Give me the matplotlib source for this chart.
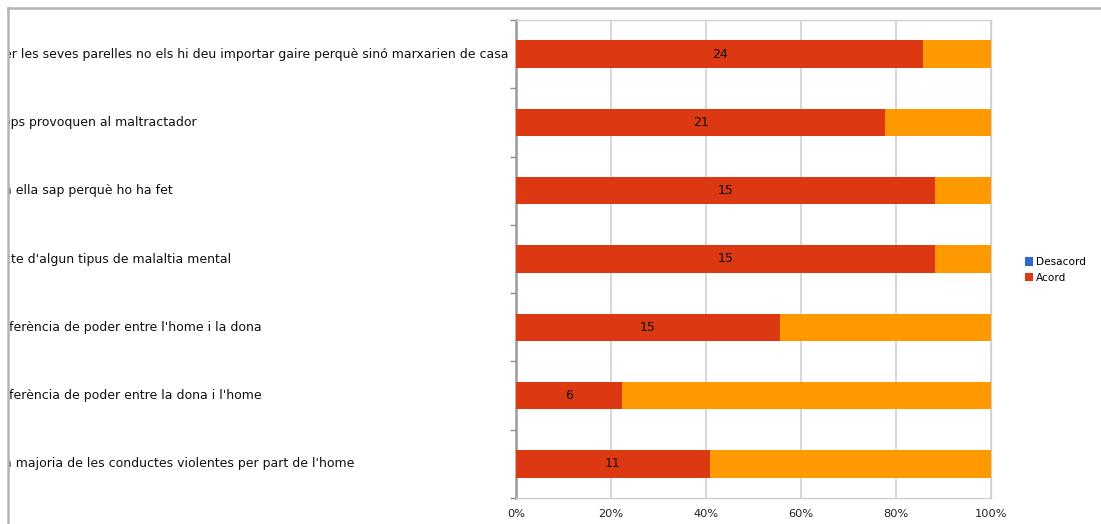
import matplotlib
matplotlib.use("Agg")
import matplotlib.pyplot as plt
from matplotlib.lines import Line2D
from matplotlib.patches import Rectangle
import numpy as np

# Survey statements (only the right-hand part fits in the frame)
categories = [
    "er les seves parelles no els hi deu importar gaire perquè sinó marxarien de casa",
    "ops provoquen al maltractador",
    "a ella sap perquè ho ha fet",
    "cte d'algun tipus de malaltia mental",
    "ferència de poder entre l'home i la dona",
    "ferència de poder entre la dona i l'home",
    "a majoria de les conductes violentes per part de l'home",
]
acord = [24, 21, 15, 15, 15, 6, 11]
desacord = [0, 0, 0, 0, 0, 0, 0]
altres = [4, 6, 2, 2, 12, 21, 16]
x_ticks = [0, 0.2, 0.4, 0.6, 0.8, 1.0]
x_tick_labels = ["0%", "20%", "40%", "60%", "80%", "100%"]

RED = "#DC3912"
BLUE = "#3366CC"
ORANGE = "#FF9900"

W, H = 1101, 524
fig = plt.figure(figsize=(W / 100, H / 100), dpi=100)
fig.patch.set_facecolor("white")

ax = fig.add_axes([516 / W, 1 - 498 / H, (991 - 516) / W, 478 / H])

acord_a = np.array(acord, float)
desacord_a = np.array(desacord, float)
altres_a = np.array(altres, float)
total = acord_a + desacord_a + altres_a
p_acord = acord_a / total
p_des = desacord_a / total
p_alt = altres_a / total

y = np.arange(len(categories))
h = 0.4
ax.barh(y, p_des, height=h, color=BLUE, linewidth=0, label="Desacord", zorder=3)
ax.barh(y, p_acord, left=p_des, height=h, color=RED, linewidth=0, label="Acord", zorder=3)
ax.barh(y, p_alt, left=p_des + p_acord, height=h, color=ORANGE, linewidth=0,
        label="_nolegend_", zorder=3)

for yi, v, p in zip(y, acord, p_acord):
    ax.text(p / 2, yi, str(v), ha="center", va="center", fontsize=9,
            color="#111111", zorder=4)

ax.set_xlim(0, 1)
ax.set_ylim(len(categories) - 0.5, -0.5)
ax.set_xticks(x_ticks)
ax.set_xticklabels(x_tick_labels, fontsize=8.2, color="#222222")
ax.tick_params(axis="x", length=0, pad=8)
ax.set_yticks(np.arange(-0.5, len(categories), 1.0))
ax.set_yticklabels([])
ax.tick_params(axis="y", length=4, width=1, color="#8c8c8c")
ax.grid(axis="x", color="#d4d4d4", linewidth=1.3, zorder=0)
ax.set_axisbelow(True)

for side in ["top", "right", "bottom"]:
    ax.spines[side].set_color("#d0d0d0")
    ax.spines[side].set_linewidth(1.0)
ax.spines["left"].set_color("#9a9a9a")
ax.spines["left"].set_linewidth(1.8)

# Category labels; the start of most is hidden behind the left frame edge
label_start_px = [4, 3, 4, 4, 9, 9, 4]
for yi, lab, xs in zip(y, categories, label_start_px):
    yc = ax.transData.transform((0, yi))[1] / H
    fig.text(xs / W, yc, lab, ha="left", va="center", fontsize=9.0,
             color="#111111", zorder=3)

handles, labels = ax.get_legend_handles_labels()
fig.legend(handles, labels, loc="center left",
           bbox_to_anchor=(1015 / W, 1 - 270 / H), frameon=False, fontsize=7.6,
           handlelength=0.8, handleheight=0.9, handletextpad=0.3,
           labelspacing=0.5)

# White margin outside the frame, then the frame lines
fig.add_artist(Rectangle((0, 0), 8 / W, 1, transform=fig.transFigure,
                         facecolor="white", edgecolor="none", zorder=5))
fig.add_artist(Rectangle((0, 1 - 8 / H), 1, 8 / H, transform=fig.transFigure,
                         facecolor="white", edgecolor="none", zorder=5))
fig.add_artist(Line2D([8 / W, 1], [1 - 8 / H, 1 - 8 / H], transform=fig.transFigure,
                      color="#b4b4b4", linewidth=1.8, zorder=6))
fig.add_artist(Line2D([8 / W, 8 / W], [0, 1 - 8 / H], transform=fig.transFigure,
                      color="#b4b4b4", linewidth=1.8, zorder=6))

fig.savefig("out.png", dpi=100)
